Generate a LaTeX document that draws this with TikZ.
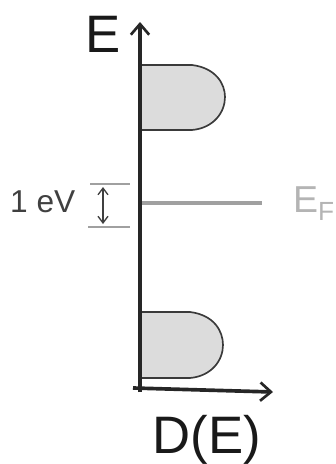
\documentclass[tikz,border=0pt]{standalone}
\usepackage{fontspec}
\setmainfont{Liberation Sans}
\usepackage{xcolor}
\definecolor{BandFill}{HTML}{DCDCDC}
\definecolor{BandEdge}{HTML}{3A3A3A}
\definecolor{LevelGray}{HTML}{A0A0A0}
\definecolor{LabelGray}{HTML}{B4B4B4}
\usetikzlibrary{arrows.meta, positioning}

\begin{document}
\begin{tikzpicture}[
  x=0.3mm, y=-0.3mm,
  axis/.style={line width=1.1mm, black!85, -{Straight Barb[length=3.2mm, width=5.5mm, line width=0.8mm]}},
  band/.style={fill=BandFill, draw=BandEdge, line width=0.5mm},
  level/.style={line width=1.4mm, LevelGray},
  tick/.style={line width=0.4mm, LevelGray},
  big/.style={font=\fontsize{45}{50}\selectfont, text=black!90, inner sep=0pt},
  mid/.style={font=\fontsize{27}{30}\selectfont, text=black!75, inner sep=0pt}
]
\useasboundingbox (0,0) rectangle (335,464);

% bands
\draw[band] (141,65) -- (192,65) .. controls (216,68) and (225,84) .. (225,97)
  .. controls (225,112) and (214,128) .. (192,130) -- (141,130);
\draw[band] (141,312) -- (190,312) .. controls (214,315) and (223,331) .. (223,345)
  .. controls (223,360) and (212,376) .. (190,378) -- (141,378);

% fermi level
\coordinate (fstart) at (141,203);
\coordinate (fend) at (262,203);
\draw[level] (fstart) -- (fend);

% axes
\coordinate (origin) at (140,392);
\coordinate (etop) at (140,22);
\coordinate (dleft) at (133,388);
\coordinate (dright) at (273,392);
\draw[axis] (origin) -- (etop);
\draw[axis] (dleft) -- (dright);

% 1 eV marker
\coordinate (ttop) at (103,187);
\coordinate (tbot) at (103,224);
\draw[tick] (90,184) -- (130,184);
\draw[tick] (88,227) -- (130,227);
\draw[line width=0.4mm, black!75, {Straight Barb[length=2mm, width=3mm]}-{Straight Barb[length=2mm, width=3mm]}] (ttop) -- (tbot);

% labels
\node[big, anchor=base] (elabel) at (103,52) {E};
\node[big, anchor=base] (dlabel) at (207,453) {D(E)};
\node[mid, anchor=base west] (evlabel) at (10,212) {1 eV};
\node[anchor=base west, inner sep=0pt, font=\fontsize{32}{36}\selectfont, text=LabelGray] (eflabel) at (293,212) {E\textsubscript{F}};
\end{tikzpicture}
\end{document}
